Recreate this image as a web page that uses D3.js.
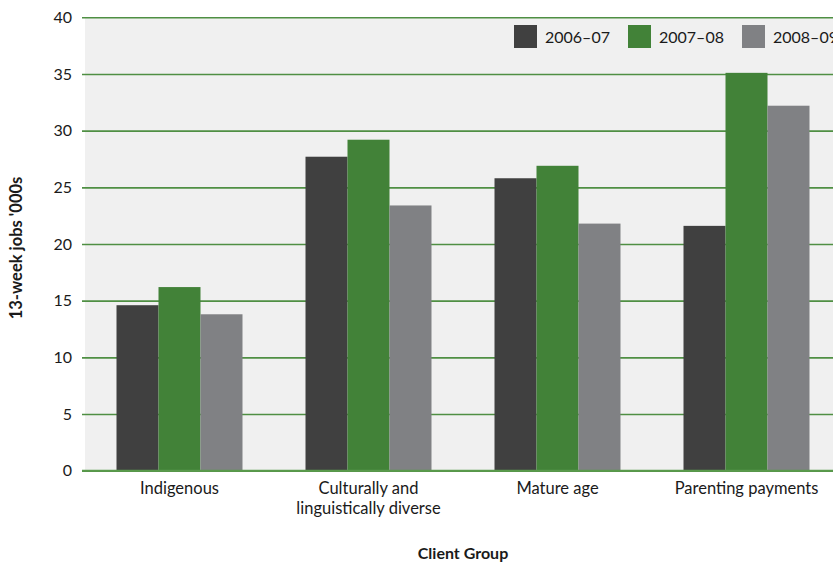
<!DOCTYPE html>
<html>
<head>
<meta charset="utf-8">
<script src="https://cdn.jsdelivr.net/npm/d3@7"></script>
<style>
  html, body { margin: 0; padding: 0; background: #ffffff; }
  svg { display: block; font-family: Lato, "Open Sans", "Liberation Sans", sans-serif; }
</style>
</head>
<body>
<svg id="chart" width="833" height="562"></svg>
<script>
// Client groups and 13-week job outcomes ('000s) per financial year
const categories = ["Indigenous", "Culturally and\nlinguistically diverse", "Mature age", "Parenting payments"];
const seriesNames = ["2006–07", "2007–08", "2008–09"];
const values2006 = [14.6, 27.7, 25.8, 21.6];
const values2007 = [16.2, 29.2, 26.9, 35.1];
const values2008 = [13.8, 23.4, 21.8, 32.2];
const yTicks = [0, 5, 10, 15, 20, 25, 30, 35, 40];
const colors = ["#404040", "#428238", "#808184"];

const series = [values2006, values2007, values2008];

const svg = d3.select("#chart");
const margin = { left: 85, top: 17.3, bottom: 470.7, right: 841 };

const x0 = d3.scaleBand()
  .domain(categories)
  .range([margin.left, margin.right])
  .paddingInner(1 / 3)
  .paddingOuter(1 / 6);

const x1 = d3.scaleBand()
  .domain(seriesNames)
  .range([0, x0.bandwidth()]);

const y = d3.scaleLinear()
  .domain([0, 40])
  .range([margin.bottom, margin.top]);

// plot background
svg.append("rect")
  .attr("x", margin.left)
  .attr("y", y(40))
  .attr("width", 833 - margin.left)
  .attr("height", y(0) - y(40))
  .attr("fill", "#f0f0f0");

// horizontal gridlines
const yAxis = d3.axisLeft(y)
  .tickValues(yTicks)
  .tickSize(-(833 - margin.left + 3))
  .tickPadding(10)
  .tickFormat(d3.format("d"));

const gy = svg.append("g")
  .attr("transform", `translate(${margin.left - 3},0)`)
  .call(yAxis);
gy.select(".domain").remove();
gy.selectAll(".tick line")
  .attr("stroke", "#4f8f43")
  .attr("stroke-width", 1.6);
gy.selectAll(".tick text")
  .attr("font-size", 16)
  .attr("fill", "#1a1a1a")
  .attr("font-family", "Lato, 'Open Sans', sans-serif");

// bars
const groups = svg.append("g")
  .selectAll("g")
  .data(categories)
  .join("g")
  .attr("transform", d => `translate(${x0(d)},0)`);

groups.selectAll("rect")
  .data((d, i) => seriesNames.map((s, j) => ({ s, v: series[j][i], j })))
  .join("rect")
  .attr("x", d => x1(d.s))
  .attr("y", d => y(d.v))
  .attr("width", x1.bandwidth())
  .attr("height", d => y(0) - y(d.v))
  .attr("fill", d => colors[d.j]);

// baseline
svg.append("line")
  .attr("x1", margin.left - 3)
  .attr("x2", 833)
  .attr("y1", y(0))
  .attr("y2", y(0))
  .attr("stroke", "#5a9a4c")
  .attr("stroke-width", 2);

// category labels
const xLabels = svg.append("g");
categories.forEach(c => {
  const lines = c.split("\n");
  const cx = x0(c) + x0.bandwidth() / 2;
  const t = xLabels.append("text")
    .attr("x", cx)
    .attr("y", 494)
    .attr("text-anchor", "middle")
    .attr("font-size", 16.5)
    .attr("fill", "#1a1a1a");
  lines.forEach((l, k) => {
    t.append("tspan")
      .attr("x", cx)
      .attr("dy", k === 0 ? 0 : 20)
      .text(l);
  });
});

// axis titles
svg.append("text")
  .attr("x", 463)
  .attr("y", 559)
  .attr("text-anchor", "middle")
  .attr("font-size", 16)
  .attr("font-weight", "bold")
  .attr("fill", "#1a1a1a")
  .text("Client Group");

svg.append("text")
  .attr("transform", "translate(22,248) rotate(-90)")
  .attr("text-anchor", "middle")
  .attr("font-size", 16.5)
  .attr("font-weight", "bold")
  .attr("fill", "#1a1a1a")
  .text("13-week jobs '000s");

// legend
const legendX = [514, 628, 742];
const legend = svg.append("g");
seriesNames.forEach((s, i) => {
  legend.append("rect")
    .attr("x", legendX[i])
    .attr("y", 25)
    .attr("width", 23)
    .attr("height", 23)
    .attr("fill", colors[i]);
  legend.append("text")
    .attr("x", legendX[i] + 31)
    .attr("y", 43)
    .attr("font-size", 16)
    .attr("fill", "#1a1a1a")
    .text(s);
});
</script>
</body>
</html>
